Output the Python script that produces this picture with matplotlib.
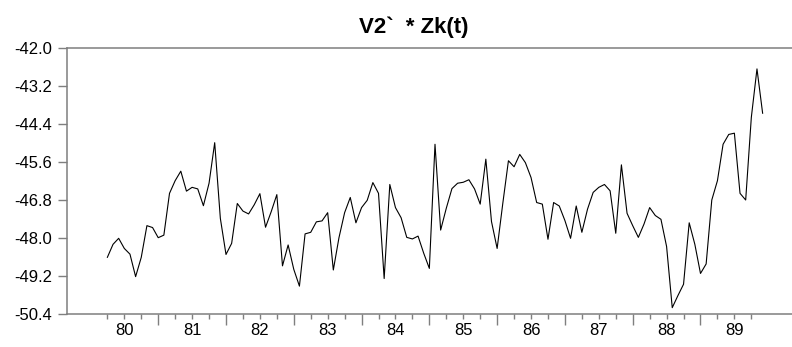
import numpy as np
import matplotlib
matplotlib.use("Agg")
from matplotlib import pyplot as plt

# mensual, 1980M04 - 1989M12
meses = np.arange(3, 120)
valores = [
    -48.61, -48.20, -48.01, -48.33, -48.51, -49.22, -48.61, -47.61, -47.67,
    -47.99, -47.91, -46.59, -46.19, -45.89, -46.52, -46.40, -46.45, -46.98,
    -46.27, -44.99, -47.38, -48.52, -48.17, -46.91, -47.15, -47.24, -46.95,
    -46.60, -47.66, -47.17, -46.63, -48.88, -48.22, -48.99, -49.52, -47.87,
    -47.82, -47.49, -47.46, -47.20, -49.01, -47.99, -47.20, -46.72, -47.52,
    -47.04, -46.81, -46.25, -46.59, -49.28, -46.31, -47.04, -47.36, -47.98,
    -48.03, -47.94, -48.48, -48.96, -45.04, -47.75, -47.06, -46.44, -46.27,
    -46.24, -46.16, -46.45, -46.93, -45.51, -47.48, -48.33, -46.91, -45.56,
    -45.75, -45.36, -45.62, -46.09, -46.88, -46.93, -48.04, -46.88, -46.99,
    -47.45, -48.01, -46.99, -47.82, -47.09, -46.56, -46.40, -46.31, -46.51,
    -47.85, -45.69, -47.22, -47.61, -47.98, -47.56, -47.04, -47.29, -47.41,
    -48.27, -50.20, -49.82, -49.46, -47.52, -48.20, -49.12, -48.82, -46.80,
    -46.19, -45.04, -44.73, -44.69, -46.59, -46.80, -44.19, -42.66, -44.06,
]
anios = ["80", "81", "82", "83", "84", "85", "86", "87", "88", "89"]
y_ticks = [-50.4, -49.2, -48.0, -46.8, -45.6, -44.4, -43.2, -42.0]
titulo = "V2`  * Zk(t)"

plt.rcParams['font.family'] = ['Liberation Sans', 'DejaVu Sans']
gris = "#7f7f7f"

fig = plt.figure(figsize=(7.92, 3.47), dpi=100)
ax = fig.add_axes([66.7 / 792, 33 / 347, 1 - 66.7 / 792, 266 / 347])

ax.plot(meses, valores, color="black", lw=0.8)

ax.set_xlim(-4.2, 124.2)
ax.set_ylim(-50.4, -42.0)

# ticks: trimestres, años mayores
trimestres = [m for m in range(3, 118, 3) if m % 12 != 0]
etiquetas = []
for m in trimestres:
    if m % 12 == 6:
        etiquetas.append(anios[m // 12])
    else:
        etiquetas.append("")
ax.set_xticks(range(12, 109, 12), [""] * 9)
ax.set_xticks(trimestres, etiquetas, minor=True)
ax.tick_params(axis="x", which="major", length=8, width=1, color=gris, direction="out")
ax.tick_params(axis="x", which="minor", length=3.5, width=1, color=gris, direction="out",
               labelsize=12, pad=3)

ax.set_yticks(y_ticks, ["%.1f" % v for v in y_ticks])
ax.tick_params(axis="y", length=6.5, width=1, color=gris, direction="out", labelsize=12, pad=4)

for lado in ["left", "top", "bottom"]:
    ax.spines[lado].set_color(gris)
    ax.spines[lado].set_linewidth(1.1)
ax.spines["right"].set_visible(False)

ax.set_title(titulo, fontsize=16, fontweight="bold", pad=11, x=0.479)

fig.savefig("out.png", dpi=100)
